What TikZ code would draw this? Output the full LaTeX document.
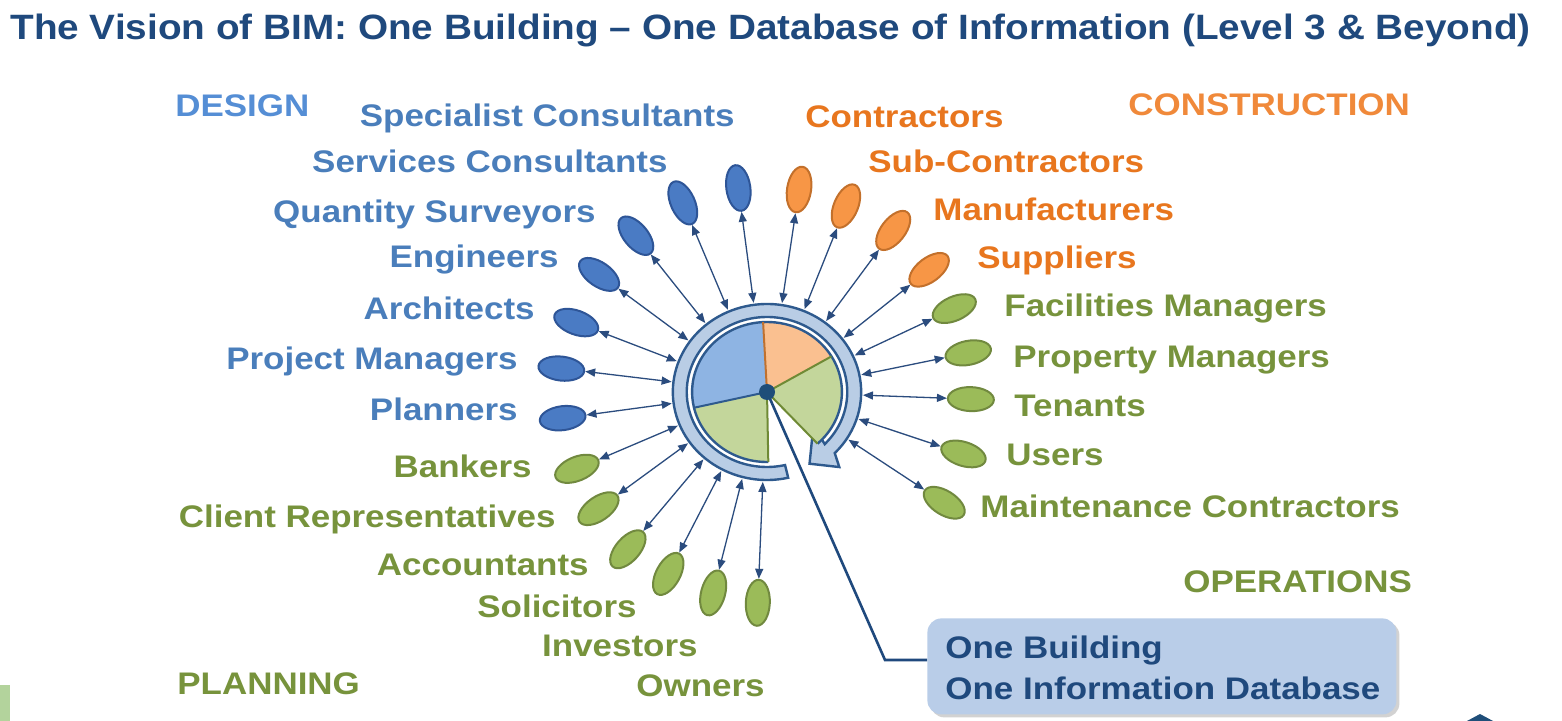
\documentclass[tikz,border=0pt]{standalone}
\usepackage{fontspec}
\setmainfont{Liberation Sans}
\usetikzlibrary{shapes.geometric,arrows.meta,calc,shadows}
\definecolor{titleblue}{HTML}{1F497D}
\definecolor{lblblue}{HTML}{4A7EBB}
\definecolor{headblue}{HTML}{558ED5}
\definecolor{lblorange}{HTML}{E8761E}
\definecolor{headorange}{HTML}{F0893A}
\definecolor{lblgreen}{HTML}{77933C}
\definecolor{ellblue}{HTML}{4A7BC4}
\definecolor{ellbluedraw}{HTML}{2E5597}
\definecolor{ellorange}{HTML}{F79646}
\definecolor{ellorangedraw}{HTML}{C3702B}
\definecolor{ellgreen}{HTML}{9BBB59}
\definecolor{ellgreendraw}{HTML}{71893F}
\definecolor{pieblue}{HTML}{8EB4E3}
\definecolor{pieorange}{HTML}{FAC090}
\definecolor{piegreen}{HTML}{C3D69B}
\definecolor{pieolive}{HTML}{6F8A35}
\definecolor{piebrown}{HTML}{C0712F}
\definecolor{ringfill}{HTML}{B9CDE5}
\definecolor{ringdraw}{HTML}{2E5A8E}
\definecolor{linkblue}{HTML}{2B4C7E}
\definecolor{dotblue}{HTML}{1F4E79}
\definecolor{boxfill}{HTML}{B9CDE8}
\definecolor{greenbar}{HTML}{B3D39C}
\newcommand\wide[1]{\scalebox{1.12}[1]{#1}}
\begin{document}
\begin{tikzpicture}[x=0.5pt,y=0.5pt,
  lbl/.style={inner sep=0pt, font=\bfseries\fontsize{15.6}{18}\selectfont},
  lb/.style={lbl, text=lblblue, anchor=base east},
  lgl/.style={lbl, text=lblgreen, anchor=base east},
  lo/.style={lbl, text=lblorange, anchor=base west},
  lgr/.style={lbl, text=lblgreen, anchor=base west},
  ell/.style={ellipse, minimum width=23pt, minimum height=12pt, inner sep=0pt, line width=1pt},
  eblue/.style={ell, fill=ellblue, draw=ellbluedraw},
  eorange/.style={ell, fill=ellorange, draw=ellorangedraw},
  egreen/.style={ell, fill=ellgreen, draw=ellgreendraw},
  link/.style={draw=linkblue, line width=0.65pt, {Triangle[length=5pt,width=4pt]}-{Triangle[length=5pt,width=4pt]}},
  infobox/.style={rounded corners=7pt, fill=boxfill, minimum width=234.5pt, minimum height=48pt, inner sep=0pt,
    drop shadow={shadow xshift=1.5pt, shadow yshift=-1.5pt, opacity=0.35}}
]
\useasboundingbox (0,0) rectangle (1562,-721);
\fill[white] (0,0) rectangle (1562,-721);
\coordinate (c) at (767,-392);

% title
\node[inner sep=0pt, anchor=base west, text=titleblue, font=\bfseries\fontsize{17.6}{20}\selectfont] (title) at (10,-40)
  {\scalebox{1.1}[1]{The Vision of BIM: One Building -- One Database of Information (Level 3 \& Beyond)}};

% ellipses and links
\foreach \a/\r/\s/\n in {98/206/eblue/b1, 114/207/eblue/b2, 130/204/eblue/b3, 145/205/eblue/b4, 160/203/eblue/b5, 173.5/207/eblue/b6, 187.3/206/eblue/b7,
  81/205/eorange/o1, 67/202/eorange/o2, 52/205/eorange/o3, 37/203/eorange/o4,
  24/205/egreen/g1, 11/205/egreen/g2, -2/204/egreen/g3, -17.5/206/egreen/g4, -32/209/egreen/g5,
  202/205/egreen/h1, 214.7/205/egreen/h2, 228.5/210/egreen/h3, 241.5/207/egreen/h4, 255/208/egreen/h5, 267.5/211/egreen/h6}{
  \node[\s, rotate=\a] (\n) at ($(c)+(\a:\r)$) {};
  \coordinate (s\n) at ($(c)+(\a:96 and 90)$);
  \draw[link] (s\n) -- (\n);
}

% central ring and pie
\begin{scope}[shift={(c)}, xscale=1.07]
  \filldraw[fill=ringfill, draw=ringdraw, line width=1.2pt, line join=miter]
    (-77:88) arc[start angle=-77, end angle=-404, radius=88]
    -- (-408:101) -- (-421:82) -- (-398:55) -- (-404:75)
    arc[start angle=-404, end angle=-77, radius=75] -- cycle;
  \fill[pieblue] (0,0) -- (93:70) arc[start angle=93, end angle=193, radius=70] -- cycle;
  \fill[piegreen] (0,0) -- (193:70) arc[start angle=193, end angle=271, radius=70] -- cycle;
  \fill[piegreen] (0,0) -- (-47.6:70) arc[start angle=-47.6, end angle=30.6, radius=70] -- cycle;
  \fill[pieorange] (0,0) -- (30.6:70) arc[start angle=30.6, end angle=93, radius=70] -- cycle;
  \draw[ringdraw, line width=1.2pt] (93:70) arc[start angle=93, end angle=271, radius=70];
  \draw[ringdraw, line width=1.2pt] (-47.6:70) arc[start angle=-47.6, end angle=93, radius=70];
  \draw[ringdraw, line width=1pt] (0,0) -- (193:70);
  \draw[pieolive, line width=1pt] (0,0) -- (271:70);
  \draw[pieolive, line width=1pt] (0,0) -- (-47.6:70);
  \draw[pieolive, line width=1pt] (0,0) -- (30.6:70);
  \draw[piebrown, line width=1pt] (0,0) -- (93:70);
\end{scope}

% info box and connector
\node[infobox, anchor=north west] (infobox) at (927,-618) {};
\coordinate (bend) at (885,-660);
\draw[titleblue, line width=1.3pt, line join=miter] (c) -- (bend) -- (bend -| infobox.west);
\node[circle, fill=dotblue, minimum size=8pt, inner sep=0pt] (dot) at (c) {};
\node[lbl, text=titleblue, anchor=base west] (bt1) at (945,-658) {\wide{One Building}};
\node[lbl, text=titleblue, anchor=base west] (bt2) at (945,-699) {\wide{One Information Database}};

% headings
\node[lbl, text=headblue, anchor=base west] (design) at (175,-117) {\wide{DESIGN}};
\node[lbl, text=headorange, anchor=base west] (construction) at (1128,-116) {\wide{CONSTRUCTION}};
\node[lbl, text=lblgreen, anchor=base west] (operations) at (1183,-592) {\wide{OPERATIONS}};
\node[lbl, text=lblgreen, anchor=base west] (planning) at (177,-694) {\wide{PLANNING}};

% left labels
\node[lb] (t1) at (735,-127) {\wide{Specialist Consultants}};
\node[lb] (t2) at (668,-173) {\wide{Services Consultants}};
\node[lb] (t3) at (596,-223) {\wide{Quantity Surveyors}};
\node[lb] (t4) at (559,-268) {\wide{Engineers}};
\node[lb] (t5) at (535,-320) {\wide{Architects}};
\node[lb] (t6) at (518,-370) {\wide{Project Managers}};
\node[lb] (t7) at (518,-420) {\wide{Planners}};
\node[lgl] (t8) at (532,-477) {\wide{Bankers}};
\node[lgl] (t9) at (556,-527) {\wide{Client Representatives}};
\node[lgl] (t10) at (589,-575) {\wide{Accountants}};
\node[lgl] (t11) at (637,-617) {\wide{Solicitors}};
\node[lgl] (t12) at (698,-656) {\wide{Investors}};
\node[lgl] (t13) at (765,-696) {\wide{Owners}};
% right labels
\node[lo] (u1) at (805,-128) {\wide{Contractors}};
\node[lo] (u2) at (868,-173) {\wide{Sub-Contractors}};
\node[lo] (u3) at (933,-221) {\wide{Manufacturers}};
\node[lo] (u4) at (977,-269) {\wide{Suppliers}};
\node[lgr] (u5) at (1004,-317) {\wide{Facilities Managers}};
\node[lgr] (u6) at (1013,-367) {\wide{Property Managers}};
\node[lgr] (u7) at (1014,-416) {\wide{Tenants}};
\node[lgr] (u8) at (1006,-465) {\wide{Users}};
\node[lgr] (u9) at (980,-517) {\wide{Maintenance Contractors}};

% edge fragments
\fill[greenbar] (0,-685) rectangle (10,-721);
\fill[dotblue] (1467,-721) -- (1480,-714) -- (1493,-721) -- cycle;
\end{tikzpicture}
\end{document}
